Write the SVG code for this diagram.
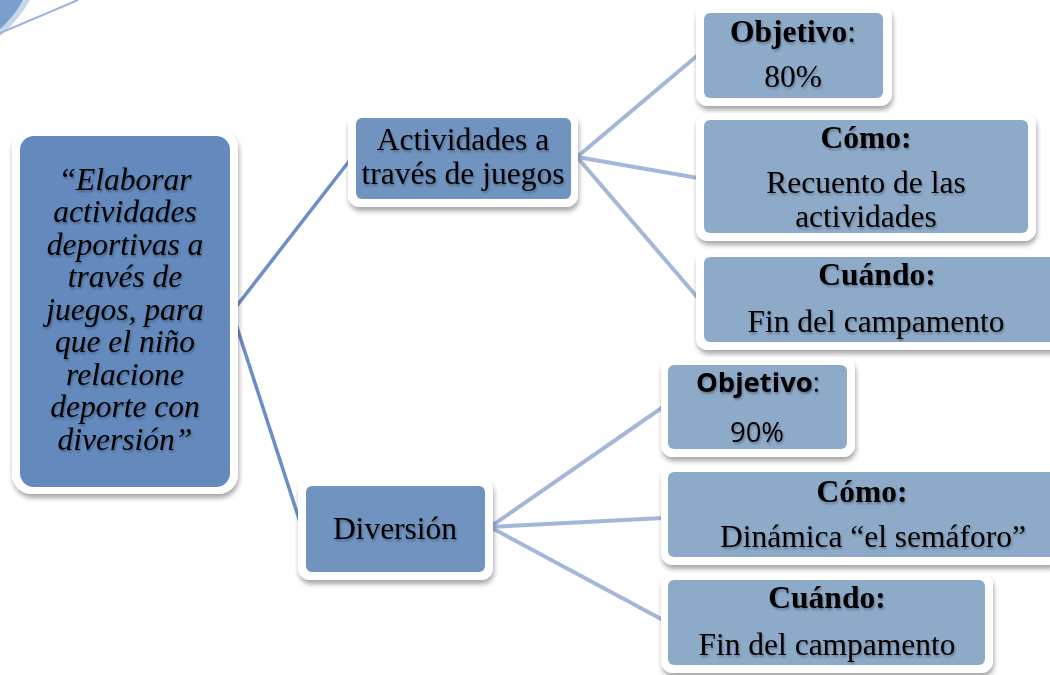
<svg xmlns="http://www.w3.org/2000/svg" width="1050" height="675" viewBox="0 0 1050 675">
<defs>
<filter id="sh" x="-10%" y="-10%" width="120%" height="130%">
<feGaussianBlur in="SourceAlpha" stdDeviation="2.5"/>
<feOffset dx="1" dy="4" result="b"/>
<feComponentTransfer><feFuncA type="linear" slope="0.35"/></feComponentTransfer>
<feMerge><feMergeNode/><feMergeNode in="SourceGraphic"/></feMerge>
</filter>
<filter id="ts" x="-5%" y="-5%" width="110%" height="120%">
<feGaussianBlur in="SourceAlpha" stdDeviation="1"/>
<feOffset dx="0.5" dy="1.5"/>
<feComponentTransfer><feFuncA type="linear" slope="0.3"/></feComponentTransfer>
<feMerge><feMergeNode/><feMergeNode in="SourceGraphic"/></feMerge>
</filter>
</defs>
<style>
.frame{fill:#ffffff;filter:url(#sh)}
.l1{fill:#6389bd}
.l2{fill:#7093c0}
.l3{fill:#8eaac9}
.t{font-family:"Liberation Serif",serif;font-size:31.5px;fill:#000;text-anchor:middle;filter:url(#ts)}
.ts{font-family:"Open Sans","Liberation Sans",sans-serif;font-size:27.5px;fill:#000;text-anchor:middle;filter:url(#ts)}
.it{font-style:italic}
.b{font-weight:bold}
.c1{stroke:#6c8ec6;stroke-width:3.5;fill:none}
.c2{stroke:#a4b7d9;stroke-width:4;fill:none}
</style>
<rect width="1050" height="675" fill="#ffffff"/>
<g id="decor">
<path d="M0 0 L30 0 C22 14 12 26 0 36 Z" fill="#c9d6ea"/>
<path d="M0 0 L23 0 C17 11 9 21 0 29 Z" fill="#7a9ed0"/>
<line x1="0" y1="33" x2="78" y2="0" stroke="#9ab4dc" stroke-width="2"/>
</g>
<g id="connectors">
<line class="c1" x1="232" y1="312" x2="350" y2="160"/>
<line class="c1" x1="232" y1="312" x2="300" y2="522"/>
<line class="c2" x1="577" y1="157" x2="698" y2="55"/>
<line class="c2" x1="577" y1="157" x2="698" y2="178"/>
<line class="c2" x1="577" y1="157" x2="698" y2="298"/>
<line class="c2" x1="490" y1="527" x2="663" y2="407"/>
<line class="c2" x1="490" y1="527" x2="663" y2="518"/>
<line class="c2" x1="490" y1="527" x2="663" y2="620"/>
</g>
<g id="root">
<rect class="frame" x="12" y="128" width="226" height="366" rx="20"/>
<rect class="l1" x="20" y="136" width="210" height="351" rx="14"/>
<text class="t it" x="125"><tspan x="125" y="190">“Elaborar</tspan><tspan x="125" y="222">actividades</tspan><tspan x="125" y="255">deportivas a</tspan><tspan x="125" y="287">través de</tspan><tspan x="125" y="320">juegos, para</tspan><tspan x="125" y="352">que el niño</tspan><tspan x="125" y="385">relacione</tspan><tspan x="125" y="417">deporte con</tspan><tspan x="125" y="450">diversión”</tspan></text>
</g>
<g id="actividades">
<rect class="frame" x="348" y="112" width="230" height="95" rx="12"/>
<rect class="l2" x="356" y="118" width="215" height="81" rx="6"/>
<text class="t"><tspan x="463" y="150">Actividades a</tspan><tspan x="463" y="184">través de juegos</tspan></text>
</g>
<g id="diversion">
<rect class="frame" x="298" y="478" width="195" height="102" rx="12"/>
<rect class="l2" x="306" y="486" width="179" height="86" rx="6"/>
<text class="t" x="395" y="539">Diversión</text>
</g>
<g id="objetivo1">
<rect class="frame" x="696" y="5" width="196" height="101" rx="12"/>
<rect class="l3" x="704" y="13" width="179" height="85" rx="6"/>
<text class="t"><tspan x="793" y="42"><tspan class="b">Objetivo</tspan>:</tspan><tspan x="793" y="87">80%</tspan></text>
</g>
<g id="como1">
<rect class="frame" x="696" y="113" width="340" height="128" rx="12"/>
<rect class="l3" x="704" y="120" width="324" height="113" rx="6"/>
<text class="t"><tspan class="b" x="866" y="148">Cómo:</tspan><tspan x="866" y="193">Recuento de las</tspan><tspan x="866" y="227">actividades</tspan></text>
</g>
<g id="cuando1">
<rect class="frame" x="696" y="250" width="370" height="100" rx="12"/>
<rect class="l3" x="704" y="257" width="360" height="85" rx="6"/>
<text class="t"><tspan class="b" x="877" y="285">Cuándo:</tspan><tspan x="876" y="332">Fin del campamento</tspan></text>
</g>
<g id="objetivo2">
<rect class="frame" x="661" y="357" width="194" height="100" rx="12"/>
<rect class="l3" x="668" y="365" width="179" height="84" rx="6"/>
<text class="ts"><tspan x="758" y="392"><tspan class="b">Objetivo</tspan>:</tspan><tspan x="757" y="442">90%</tspan></text>
</g>
<g id="como2">
<rect class="frame" x="661" y="465" width="400" height="100" rx="12"/>
<rect class="l3" x="668" y="472" width="390" height="85" rx="6"/>
<text class="t"><tspan class="b" x="862" y="502">Cómo:</tspan><tspan x="873" y="547">Dinámica “el semáforo”</tspan></text>
</g>
<g id="cuando2">
<rect class="frame" x="661" y="573" width="332" height="100" rx="12"/>
<rect class="l3" x="668" y="580" width="317" height="85" rx="6"/>
<text class="t"><tspan class="b" x="827" y="608">Cuándo:</tspan><tspan x="827" y="655">Fin del campamento</tspan></text>
</g>
</svg>
